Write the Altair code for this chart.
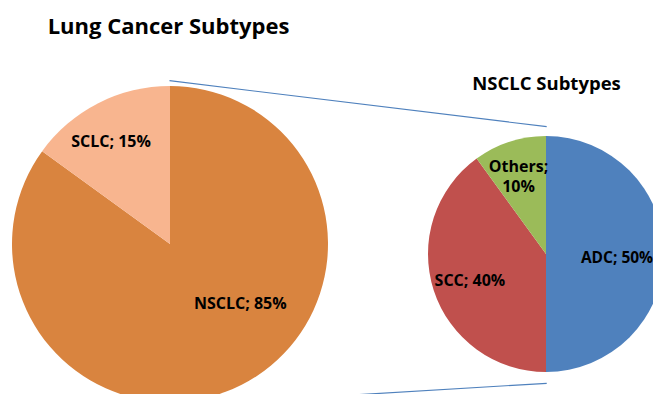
import altair as alt
import pandas as pd

# ---- data ----
main_names = ["NSCLC", "SCLC"]
main_values = [85, 15]
main_labels = ["NSCLC; 85%", "SCLC; 15%"]

sub_names = ["ADC", "SCC", "Others"]
sub_values = [50, 40, 10]
sub_labels = ["ADC; 50%", "SCC; 40%", "Others;\n10%"]

titles = ["Lung Cancer Subtypes", "NSCLC Subtypes"]

all_names = main_names + sub_names
colors = ["#D9843F", "#F8B58F", "#4F81BD", "#C0504D", "#9BBB59"]

FONT = "Open Sans"

main_df = pd.DataFrame({"name": main_names, "value": main_values,
                        "label": main_labels, "order": list(range(len(main_names)))})
sub_df = pd.DataFrame({"name": sub_names, "value": sub_values,
                       "label": sub_labels, "order": list(range(len(sub_names)))})
dummy = pd.DataFrame({"a": [0]})

color_scale = alt.Scale(domain=all_names, range=colors)

# geometry (chart pixel coordinates)
BIG = (162, 236, 158)
SMALL = (538, 246, 118)


def pie(df, c):
    cx, cy, r = c
    return alt.Chart(df).mark_arc(radius=r).encode(
        theta=alt.Theta("value:Q", stack=True),
        color=alt.Color("name:N", scale=color_scale, legend=None),
        order=alt.Order("order:Q"),
        x=alt.value(cx), y=alt.value(cy),
    )


def label(df, name, c, r, dx, dy, size=16):
    cx, cy, _ = c
    return alt.Chart(df).mark_text(
        radius=r, dx=dx, dy=dy, font=FONT, fontSize=size, fontWeight="bold",
        color="black", align="center", baseline="alphabetic",
        lineBreak="\n", lineHeight=20,
    ).encode(
        theta=alt.Theta("value:Q", stack=True),
        detail="name:N",
        order=alt.Order("order:Q"),
        text=alt.condition(f"datum.name == '{name}'", alt.Text("label:N"), alt.value("")),
        x=alt.value(cx), y=alt.value(cy),
    )


def title(text, x, y, size):
    return alt.Chart(dummy).mark_text(
        text=text, font=FONT, fontSize=size, fontWeight="bold", color="black",
        align="center", baseline="alphabetic",
    ).encode(x=alt.value(x), y=alt.value(y))


line_top = alt.Chart(dummy).mark_rule(color="#4F81BD", strokeWidth=1.2).encode(
    x=alt.value(161.5), y=alt.value(72.7), x2=alt.value(538.7), y2=alt.value(118.7))
line_bot = alt.Chart(dummy).mark_rule(color="#4F81BD", strokeWidth=1.2).encode(
    x=alt.value(162), y=alt.value(398), x2=alt.value(538.7), y2=alt.value(375.3))

chart = alt.layer(
    line_top, line_bot,
    pie(main_df, BIG), pie(sub_df, SMALL),
    label(main_df, "SCLC", BIG, 110, -9, 1),
    label(main_df, "NSCLC", BIG, 80, 34, -6),
    label(sub_df, "ADC", SMALL, 78, -7, 9, 15.5),
    label(sub_df, "SCC", SMALL, 80, 0, 7),
    label(sub_df, "Others", SMALL, 84, -1.5, -2),
    title(titles[0], 160.5, 26, 22),
    title(titles[1], 538.5, 82, 18.5),
).properties(
    width=645, height=386, padding=0, autosize="none"
).configure_view(stroke=None)

chart.save("out.html", embed_options={"renderer": "svg", "actions": False})
